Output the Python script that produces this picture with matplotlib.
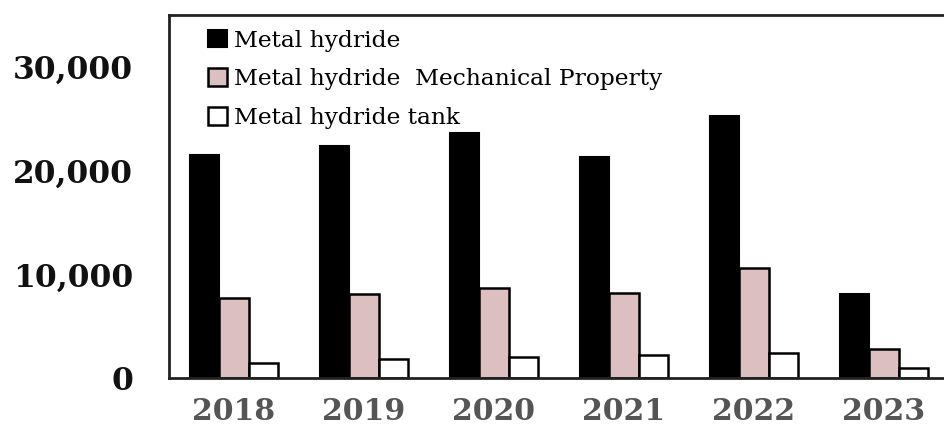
import matplotlib
matplotlib.use("Agg")
import matplotlib.pyplot as plt
import numpy as np

# data
years = ["2018", "2019", "2020", "2021", "2022", "2023"]
metal_hydride = [21500, 22400, 23600, 21300, 25300, 8100]
mechanical_property = [7700, 8100, 8700, 8200, 10600, 2800]
hydride_tank = [1400, 1800, 2000, 2200, 2400, 950]
series_labels = ["Metal hydride", "Metal hydride  Mechanical Property", "Metal hydride tank"]
yticks = [0, 10000, 20000, 30000]

fig = plt.figure(figsize=(9.44, 4.28), dpi=100)
ax = fig.add_axes([169 / 944, 50 / 428, 780 / 944, 363 / 428])

x = np.arange(len(years))
w = 0.225
off = 0.225
ax.bar(x - off, metal_hydride, w, color="black", edgecolor="black", linewidth=1.5, label=series_labels[0])
ax.bar(x, mechanical_property, w, color="#dbbfc1", edgecolor="black", linewidth=1.8, label=series_labels[1])
ax.bar(x + off, hydride_tank, w, color="white", edgecolor="black", linewidth=1.8, label=series_labels[2])

ax.set_xlim(-0.5, len(years) - 0.5)
ax.set_ylim(0, 35000)
ax.set_xticks(x)
ax.set_xticklabels(years, family="DejaVu Serif", fontweight="bold", fontsize=21.5, color="#555555")
ax.set_yticks(yticks)
ax.set_yticklabels([f"{v:,}" for v in yticks], family="DejaVu Serif", fontweight="bold", fontsize=22.5, color="#111111")
ax.tick_params(axis="x", length=0, pad=14)
ax.tick_params(axis="y", length=0, pad=26)

for s in ax.spines.values():
    s.set_linewidth(2)
    s.set_color("#222222")

ax.legend(loc="upper left", bbox_to_anchor=(0.029, 1.005), frameon=False,
          prop={"family": "DejaVu Serif", "size": 16.8},
          handlelength=0.8, handleheight=0.8, handletextpad=0.3,
          labelspacing=0.72, borderaxespad=0.3)

fig.savefig("out.png", dpi=100)
